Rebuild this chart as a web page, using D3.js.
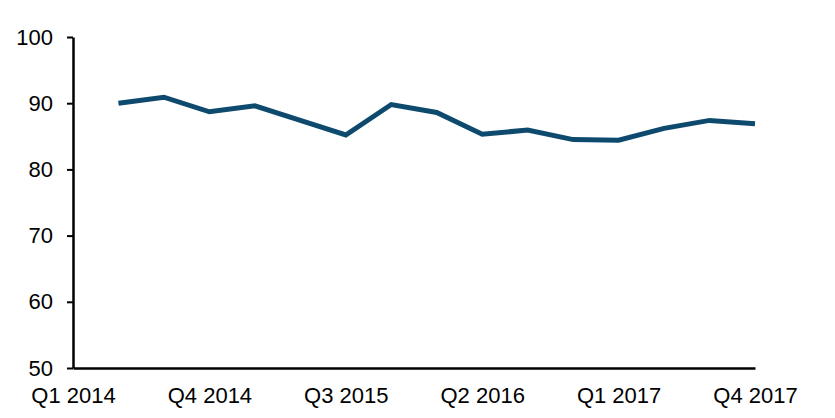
<!DOCTYPE html>
<html>
<head>
<meta charset="utf-8">
<script src="https://cdn.jsdelivr.net/npm/d3@7"></script>
<style>
  html, body { margin: 0; padding: 0; background: #fff; }
  svg { display: block; }
</style>
</head>
<body>
<div id="chart"></div>
<script>
const quarters = ["Q1 2014","Q2 2014","Q3 2014","Q4 2014","Q1 2015","Q2 2015","Q3 2015","Q4 2015",
                  "Q1 2016","Q2 2016","Q3 2016","Q4 2016","Q1 2017","Q2 2017","Q3 2017","Q4 2017"];
const values = [null, 90.0, 90.9, 88.7, 89.6, 87.4, 85.2, 89.8, 88.6, 85.3, 85.95, 84.5, 84.4, 86.2, 87.4, 86.9];
const xTickLabels = ["Q1 2014","Q4 2014","Q3 2015","Q2 2016","Q1 2017","Q4 2017"];
const yTicks = [50, 60, 70, 80, 90, 100];

const W = 835, H = 418;
const margin = {top: 37, right: 80, bottom: 50, left: 73};

const svg = d3.select("#chart").append("svg").attr("width", W).attr("height", H);

const x = d3.scalePoint().domain(quarters).range([margin.left, W - margin.right]);
const y = d3.scaleLinear().domain([50, 100]).range([H - margin.bottom, margin.top]);

const font = "Liberation Sans, Arial, sans-serif";

const yAxis = svg.append("g")
  .attr("transform", `translate(${margin.left},0)`)
  .call(d3.axisLeft(y).tickValues(yTicks).tickSize(6).tickPadding(14).tickSizeOuter(0));
yAxis.selectAll("text").attr("font-family", font).attr("font-size", 22).attr("fill", "#000");
yAxis.selectAll("line").attr("stroke", "#000").attr("stroke-width", 2);
yAxis.select(".domain").attr("stroke", "#000").attr("stroke-width", 2.5);

const xAxis = svg.append("g")
  .attr("transform", `translate(0,${H - margin.bottom})`)
  .call(d3.axisBottom(x).tickValues(xTickLabels).tickSize(0).tickPadding(19).tickSizeOuter(0));
xAxis.selectAll("text").attr("font-family", font).attr("font-size", 22).attr("fill", "#000");
xAxis.select(".domain").attr("stroke", "#000").attr("stroke-width", 2.5);

const data = quarters.map((q, i) => ({q, v: values[i]}));
const line = d3.line()
  .defined(d => d.v !== null)
  .x(d => x(d.q))
  .y(d => y(d.v));

svg.append("path")
  .datum(data)
  .attr("fill", "none")
  .attr("stroke", "#0e4a6e")
  .attr("stroke-width", 5)
  .attr("stroke-linejoin", "miter")
  .attr("stroke-linecap", "butt")
  .attr("d", line);
</script>
</body>
</html>
